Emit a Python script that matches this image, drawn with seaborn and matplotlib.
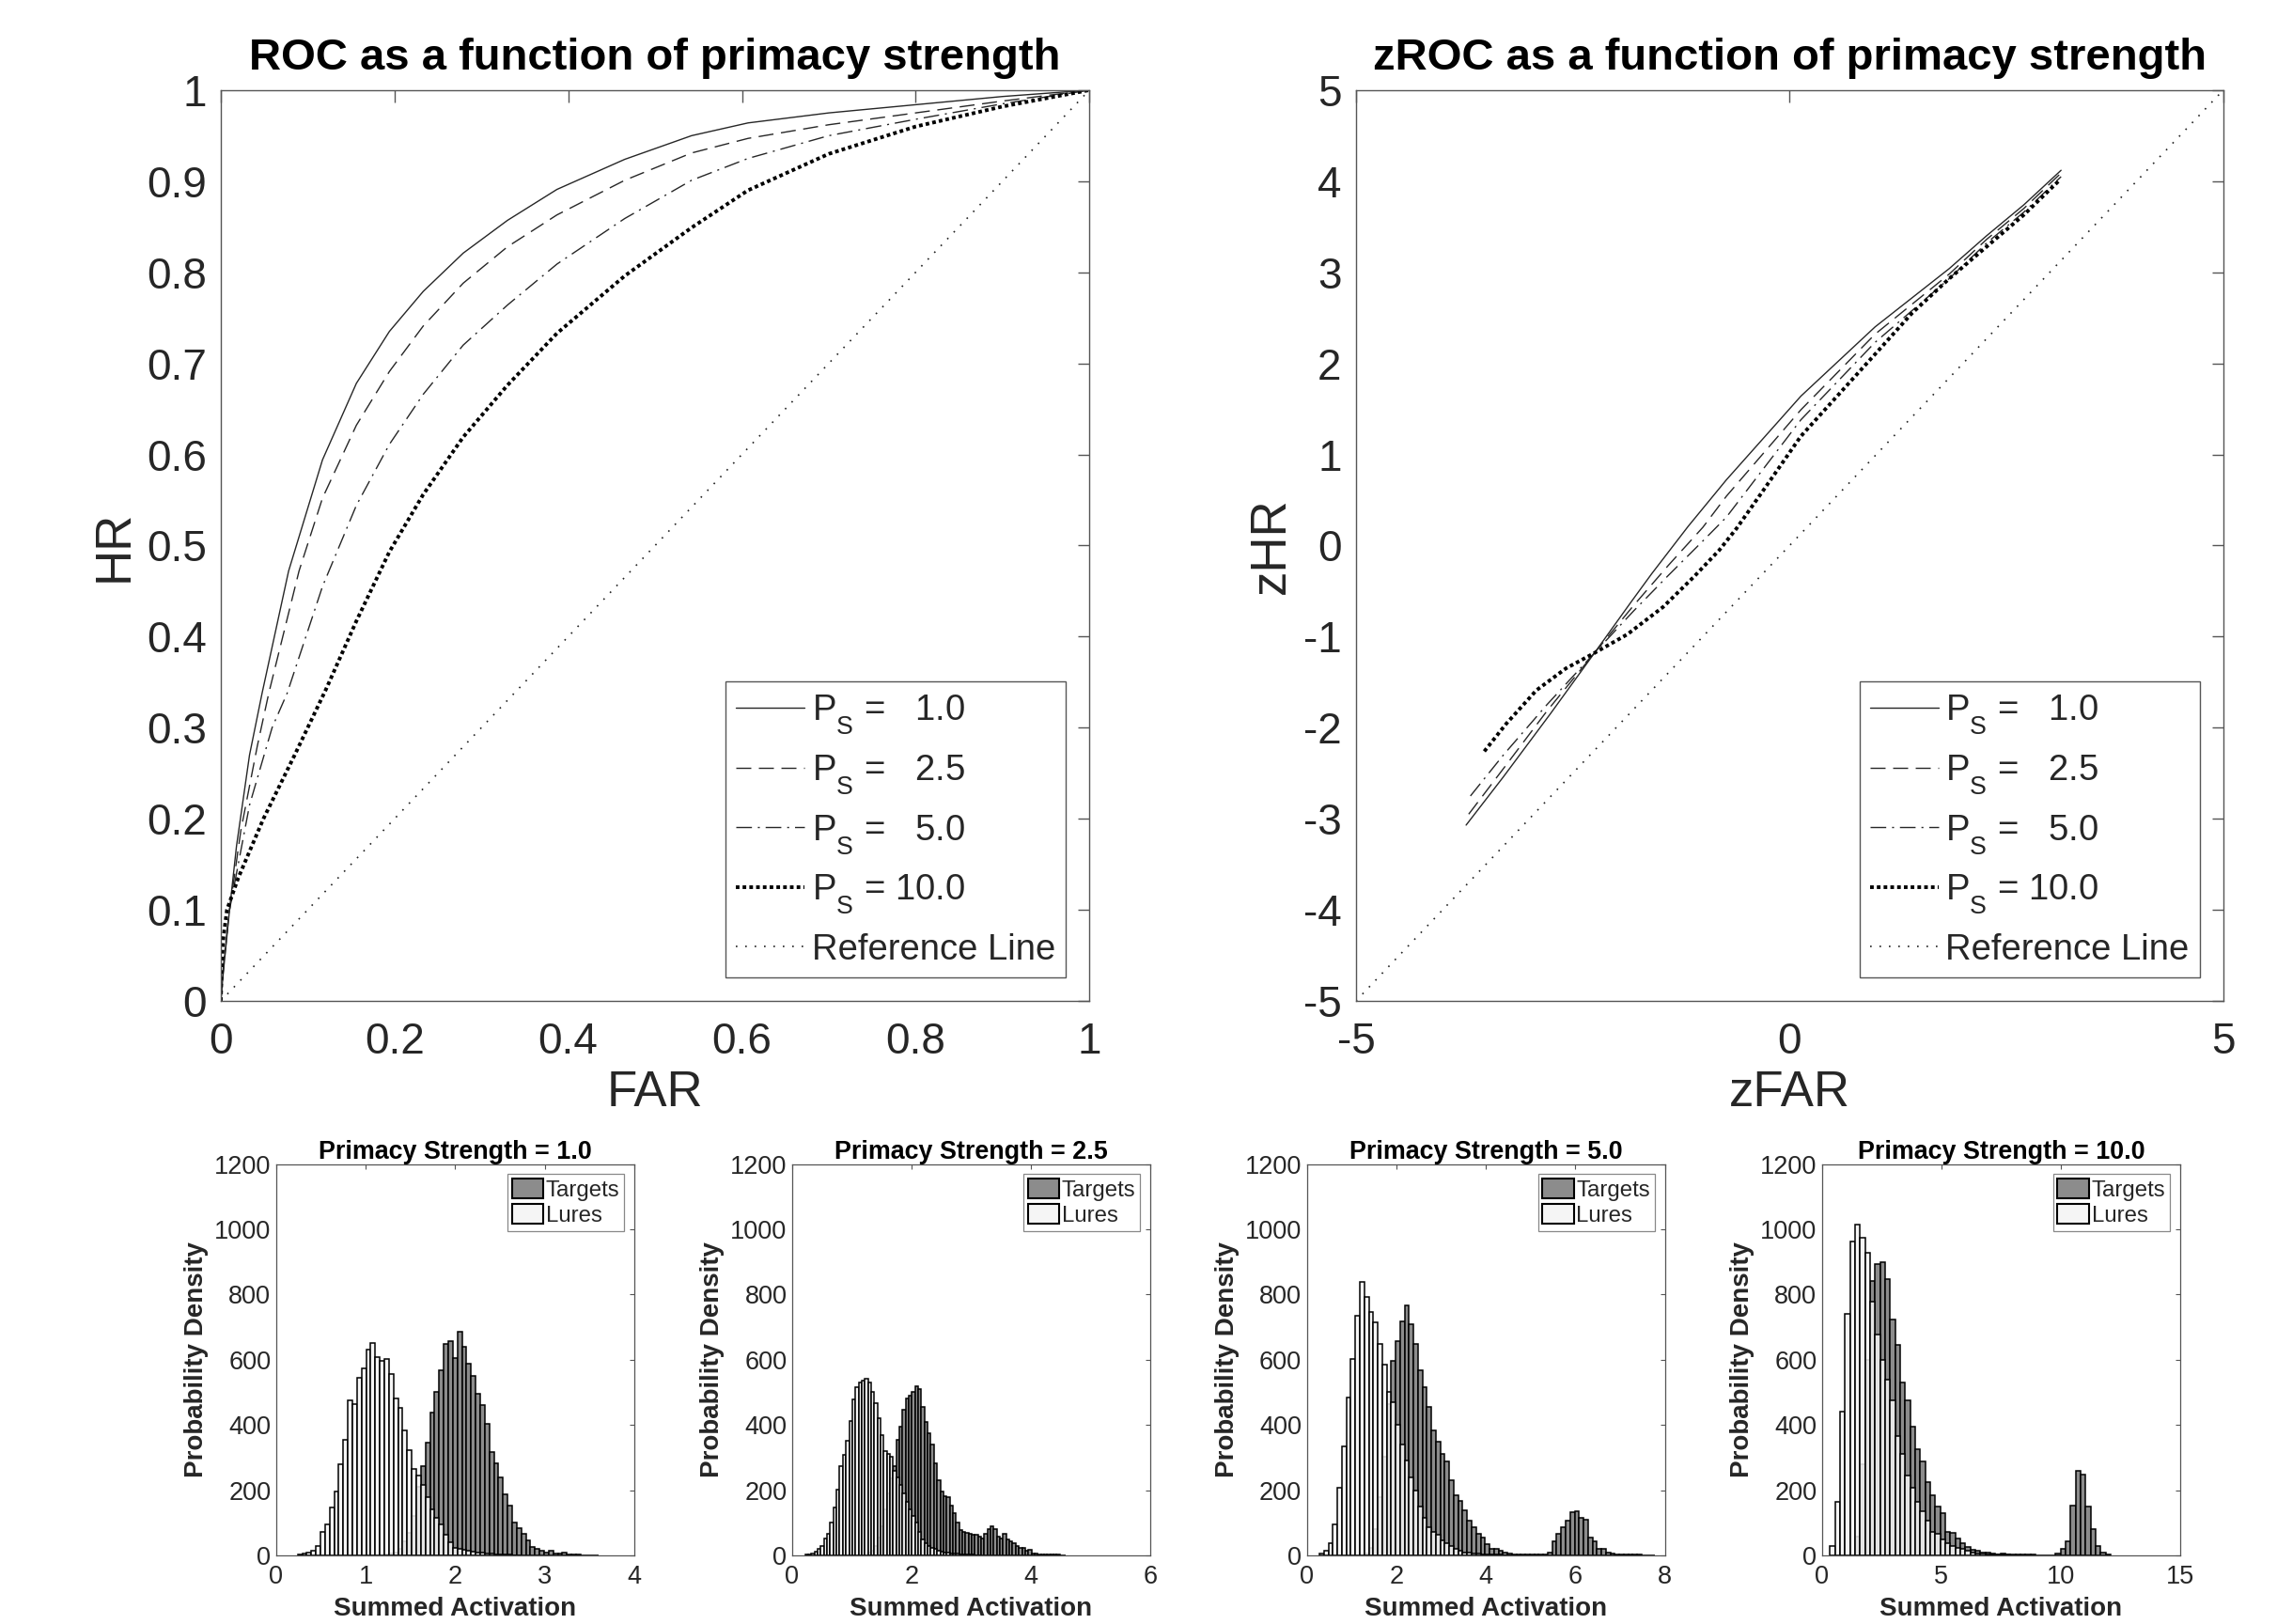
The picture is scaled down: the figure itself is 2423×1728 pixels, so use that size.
import numpy as np
import pandas as pd
import matplotlib
matplotlib.use("Agg")
import matplotlib.pyplot as plt
from matplotlib.patches import Patch
from matplotlib.ticker import FuncFormatter, MultipleLocator
import seaborn as sns

try:
    import matplotlib._mathtext as _mt
    _mt.FontConstantsBase.sub1 = 0.75
    _mt.FontConstantsBase.sub2 = 0.85
except Exception:
    pass

# ------------------------------------------------------------------ data
ps_values = ["1.0", "2.5", "5.0", "10.0"]

# ROC curves (FAR, HR)
roc_far_ps1 = [0, 0.001, 0.003, 0.01, 0.018, 0.033, 0.0475, 0.078, 0.117, 0.156, 0.194, 0.233, 0.279, 0.33,
               0.387, 0.465, 0.542, 0.607, 0.7, 0.8, 0.9, 1.0]
roc_hr_ps1 = [0, 0.012, 0.033, 0.10, 0.17, 0.27, 0.338, 0.472, 0.594, 0.678, 0.735, 0.779, 0.821, 0.857,
              0.891, 0.924, 0.950, 0.964, 0.975, 0.984, 0.993, 1.0]
roc_far_ps2 = [0, 0.001, 0.004, 0.009, 0.023, 0.042, 0.0552, 0.09, 0.117, 0.156, 0.194, 0.233, 0.279, 0.33,
               0.387, 0.465, 0.542, 0.607, 0.7, 0.8, 0.9, 1.0]
roc_hr_ps2 = [0, 0.015, 0.045, 0.093, 0.187, 0.28, 0.338, 0.472, 0.552, 0.632, 0.691, 0.741, 0.788, 0.828,
              0.863, 0.901, 0.931, 0.947, 0.962, 0.975, 0.988, 1.0]
roc_far_ps3 = [0, 0.001, 0.004, 0.01, 0.033, 0.059, 0.0764, 0.117, 0.156, 0.194, 0.233, 0.279, 0.33,
               0.387, 0.465, 0.542, 0.607, 0.7, 0.8, 0.9, 1.0]
roc_hr_ps3 = [0, 0.015, 0.05, 0.10, 0.215, 0.30, 0.338, 0.455, 0.544, 0.611, 0.666, 0.720, 0.764,
              0.809, 0.859, 0.901, 0.925, 0.950, 0.968, 0.985, 1.0]
roc_far_ps4 = [0, 0.001, 0.003, 0.007, 0.02, 0.049, 0.085, 0.121, 0.156, 0.194, 0.233, 0.279, 0.33,
               0.387, 0.465, 0.542, 0.607, 0.7, 0.8, 0.9, 1.0]
roc_hr_ps4 = [0, 0.04, 0.07, 0.10, 0.135, 0.20, 0.27, 0.342, 0.417, 0.493, 0.556, 0.619, 0.676,
              0.733, 0.796, 0.849, 0.89, 0.93, 0.96, 0.982, 1.0]

# zROC curves (zFAR, zHR)
zroc_x_ps1 = [-3.73, -3.30, -2.76, -2.25, -1.82, -1.59, -1.17, -0.73, 0.13, 0.985, 1.84, 2.27, 2.70, 3.13]
zroc_y_ps1 = [-3.07, -2.54, -1.85, -1.18, -0.61, -0.31, 0.21, 0.72, 1.64, 2.40, 3.04, 3.40, 3.74, 4.12]
zroc_x_ps2 = [-3.70, -3.3, -2.8, -2.25, -1.8, -1.4, -1.0, -0.73, 0.13, 0.985, 1.84, 2.27, 2.70, 3.13]
zroc_y_ps2 = [-2.95, -2.45, -1.82, -1.18, -0.66, -0.22, 0.20, 0.54, 1.49, 2.32, 2.98, 3.36, 3.70, 4.09]
zroc_x_ps3 = [-3.68, -3.3, -2.8, -2.25, -1.8, -1.4, -1.0, -0.73, 0.13, 0.985, 1.84, 2.27, 2.70, 3.13]
zroc_y_ps3 = [-2.75, -2.3, -1.75, -1.18, -0.72, -0.33, 0.05, 0.31, 1.38, 2.23, 2.93, 3.32, 3.66, 4.05]
zroc_x_ps4 = [-3.52, -3.27, -2.92, -2.58, -2.25, -1.87, -1.46, -1.10, -0.81, -0.61, -0.30, 0.13, 0.985,
              1.41, 1.84, 2.27, 2.70, 3.10]
zroc_y_ps4 = [-2.26, -1.96, -1.59, -1.35, -1.18, -0.975, -0.676, -0.34, -0.05, 0.19, 0.61, 1.20, 2.10,
              2.55, 2.93, 3.28, 3.63, 4.0]

ref_roc = [0.0, 1.0]
ref_zroc = [-5.0, 5.0]

# Histograms: bin start, bin width, lure counts, first target bin, target counts
hist_titles = ["Primacy Strength = 1.0", "Primacy Strength = 2.5",
               "Primacy Strength = 5.0", "Primacy Strength = 10.0"]
hist_xmax = [4, 6, 8, 15]
hist_xtick_step = [1, 2, 2, 5]

h1_start, h1_width = 0.24, 0.051
h1_lures = [3, 5, 8, 15, 30, 72, 96, 147, 197, 279, 355, 475, 463, 545, 573, 631, 650, 608, 596, 603,
            557, 480, 453, 384, 324, 264, 245, 215, 180, 140, 115, 96, 62, 40, 24, 20, 17, 15, 12, 10,
            8, 6, 5, 4, 3, 2, 2, 1, 1]
h1_target_first = 19
h1_targets = [2, 5, 10, 20, 43, 70, 120, 211, 274, 346, 437, 500, 567, 648, 656, 605, 685, 641, 589, 550,
              495, 461, 403, 317, 283, 240, 187, 154, 101, 84, 67, 46, 26, 19, 14, 10, 14, 5, 5, 8,
              3, 2, 2, 1, 1, 1, 1]

h2_start, h2_width = 0.216, 0.0527
h2_lures = [2, 3, 5, 12, 19, 29, 53, 67, 101, 147, 202, 274, 307, 351, 413, 477, 516, 531, 535, 541,
            531, 500, 468, 420, 370, 320, 310, 303, 260, 240, 215, 190, 165, 140, 120, 100, 72, 50, 36, 29,
            23, 19, 15, 12, 10, 8, 7, 6, 5, 4, 3, 3, 2, 2, 1, 1]
h2_target_first = 20
h2_targets = [8, 15, 30, 55, 90, 140, 190, 235, 274, 355, 394, 447, 480, 490, 500, 519, 509, 456, 408, 375,
              341, 283, 231, 197, 182, 178, 154, 130, 101, 77, 72, 70, 67, 62, 64, 58, 53, 67, 82, 89,
              82, 58, 53, 67, 48, 43, 38, 29, 24, 24, 14, 16, 7, 5, 4, 3, 3, 3, 2, 2, 2, 1, 1]

h3_start, h3_width = 0.28, 0.1
h3_lures = [5, 14, 38, 96, 207, 333, 485, 602, 735, 839, 791, 746, 714, 648, 586, 500, 470, 400, 340, 290,
            240, 200, 150, 115, 86, 72, 64, 45, 36, 29, 21, 15, 10, 8, 6, 5, 4, 3, 3, 2, 2, 1, 1]
h3_target_first = 10
h3_targets = [5, 24, 82, 180, 302, 465, 596, 658, 718, 766, 708, 647, 567, 516, 456, 384, 350, 310, 288, 231,
              183, 168, 139, 106, 86, 67, 55, 35, 21, 19, 14, 10, 5, 4, 3, 3, 2, 2, 2, 2,
              3, 10, 43, 67, 86, 106, 132, 135, 115, 110, 55, 43, 21, 19, 10, 5, 4, 3, 3, 2,
              2, 2, 1, 1, 1]

h4_start, h4_width = 0.33, 0.21
h4_lures = [29, 163, 442, 740, 963, 1013, 975, 929, 778, 677, 600, 538, 476, 365, 312, 245, 207, 163, 134, 106,
            72, 67, 48, 38, 29, 24, 19, 14, 10, 7, 5, 4, 3, 3, 2, 2, 1, 1, 1]
h4_target_first = 5
h4_targets = [58, 279, 600, 840, 893, 898, 848, 723, 644, 530, 475, 394, 327, 288, 226, 183, 149, 130, 72, 70,
              53, 36, 26, 16, 14, 10, 8, 5, 3, 7, 3, 2, 2, 2, 2, 2, 1, 1, 1, 1,
              5, 19, 43, 154, 259, 247, 149, 80, 29, 10, 3]

# ------------------------------------------------------------------ style
sns.set_style("white")
plt.rcParams["font.family"] = ["Liberation Sans", "DejaVu Sans"]
plt.rcParams["mathtext.fontset"] = "custom"
plt.rcParams["mathtext.rm"] = "Liberation Sans"
plt.rcParams["mathtext.it"] = "Liberation Sans:italic"
plt.rcParams["mathtext.bf"] = "Liberation Sans:bold"

TXT = "#262626"
SPINE = "#555555"

fig = plt.figure(figsize=(24.23, 17.28), dpi=100)
fig.patch.set_facecolor("white")

ax_roc = fig.add_axes([0.0970, 0.3837, 0.3814, 0.5608])
ax_z = fig.add_axes([0.5955, 0.3837, 0.3809, 0.5608])

curve_styles = [
    dict(color="#262626", linewidth=1.0, linestyle="-"),
    dict(color="#262626", linewidth=1.0, linestyle=(0, (11.5, 5.8))),
    dict(color="#262626", linewidth=1.0, linestyle=(0, (12, 4.5, 1.5, 4.5))),
    dict(color="black", linewidth=2.8, linestyle=(0, (1, 0.85))),
]
ref_style = dict(color="#222222", linewidth=1.2, linestyle=(0, (1, 5)))

labels = [r"P${}_\mathregular{S}$ = " + ("  " if len(v) < 4 else "") + v for v in ps_values]

roc_sets = [(roc_far_ps1, roc_hr_ps1), (roc_far_ps2, roc_hr_ps2),
            (roc_far_ps3, roc_hr_ps3), (roc_far_ps4, roc_hr_ps4)]
zroc_sets = [(zroc_x_ps1, zroc_y_ps1), (zroc_x_ps2, zroc_y_ps2),
             (zroc_x_ps3, zroc_y_ps3), (zroc_x_ps4, zroc_y_ps4)]


def gfmt(v, p):
    return f"{v:g}"


def style_big(ax, title, xlabel, ylabel):
    ax.set_title(title, fontsize=34, fontweight="bold", pad=16, color="black")
    ax.set_xlabel(xlabel, fontsize=38, color=TXT, labelpad=5)
    ax.set_ylabel(ylabel, fontsize=38, color=TXT, labelpad=6.5)
    ax.tick_params(direction="in", length=9, width=1.0, colors=SPINE, labelcolor=TXT,
                   labelsize=33, top=True, right=True)
    ax.tick_params(axis="x", pad=16)
    ax.tick_params(axis="y", pad=11)
    for s in ax.spines.values():
        s.set_color(SPINE)
        s.set_linewidth(1.0)
    ax.xaxis.set_major_formatter(FuncFormatter(gfmt))
    ax.yaxis.set_major_formatter(FuncFormatter(gfmt))


def big_legend(ax):
    h, l = ax.get_legend_handles_labels()
    leg = ax.legend(h, l, loc="lower right", fontsize=27.5, frameon=True, fancybox=False,
                    framealpha=1, edgecolor=SPINE, handlelength=1.9, handletextpad=0.2,
                    labelspacing=0.45, borderpad=0.3, borderaxespad=0.65)
    leg.get_frame().set_linewidth(1.0)


def curve_frame(xs, ys):
    return pd.DataFrame({"x": np.asarray(xs, dtype=float), "y": np.asarray(ys, dtype=float)})


# ROC
for (fx, hy), st, lab in zip(roc_sets, curve_styles, labels):
    sns.lineplot(data=curve_frame(fx, hy), x="x", y="y", ax=ax_roc, sort=False,
                 estimator=None, label=lab, **st)
sns.lineplot(data=curve_frame(ref_roc, ref_roc), x="x", y="y", ax=ax_roc, sort=False,
             estimator=None, label="Reference Line", **ref_style)
ax_roc.set_xlim(0, 1)
ax_roc.set_ylim(0, 1)
ax_roc.xaxis.set_major_locator(MultipleLocator(0.2))
ax_roc.yaxis.set_major_locator(MultipleLocator(0.1))
style_big(ax_roc, "ROC as a function of primacy strength", "FAR", "HR")
big_legend(ax_roc)

# zROC
for (zx, zy), st, lab in zip(zroc_sets, curve_styles, labels):
    sns.lineplot(data=curve_frame(zx, zy), x="x", y="y", ax=ax_z, sort=False,
                 estimator=None, label=lab, **st)
sns.lineplot(data=curve_frame(ref_zroc, ref_zroc), x="x", y="y", ax=ax_z, sort=False,
             estimator=None, label="Reference Line", **ref_style)
ax_z.set_xlim(-5, 5)
ax_z.set_ylim(-5, 5)
ax_z.xaxis.set_major_locator(MultipleLocator(5))
ax_z.yaxis.set_major_locator(MultipleLocator(1))
style_big(ax_z, "zROC as a function of primacy strength", "zFAR", "zHR")
big_legend(ax_z)

# Histograms
hist_sets = [
    (h1_start, h1_width, h1_lures, h1_target_first, h1_targets),
    (h2_start, h2_width, h2_lures, h2_target_first, h2_targets),
    (h3_start, h3_width, h3_lures, h3_target_first, h3_targets),
    (h4_start, h4_width, h4_lures, h4_target_first, h4_targets),
]
hist_lefts = [0.1213, 0.3479, 0.5740, 0.8002]
TARGET_C = "#8c8c8c"
LURE_C = "#f5f5f5"

for left, (start, width, lures, tfirst, targets), title, xmax, step in zip(
        hist_lefts, hist_sets, hist_titles, hist_xmax, hist_xtick_step):
    ax = fig.add_axes([left, 0.04225, 0.1572, 0.2410])
    n = max(len(lures), tfirst + len(targets))
    edges = start + width * np.arange(n + 1)
    centers = edges[:-1] + width / 2
    t_edges = [float(e) for e in edges[tfirst:tfirst + len(targets) + 1]]
    t_df = pd.DataFrame({"x": centers[tfirst:tfirst + len(targets)],
                         "w": np.asarray(targets, dtype=float)})
    l_edges = [float(e) for e in edges[:len(lures) + 1]]
    l_df = pd.DataFrame({"x": centers[:len(lures)], "w": np.asarray(lures, dtype=float)})
    sns.histplot(data=t_df, x="x", weights="w", bins=t_edges, ax=ax, stat="count",
                 element="bars", fill=True, color=TARGET_C, alpha=1.0,
                 edgecolor="black", linewidth=1.1)
    sns.histplot(data=l_df, x="x", weights="w", bins=l_edges, ax=ax, stat="count",
                 element="bars", fill=True, color=LURE_C, alpha=0.85,
                 edgecolor="black", linewidth=1.1)
    ax.set_xlim(0, xmax)
    ax.set_ylim(0, 1200)
    ax.xaxis.set_major_locator(MultipleLocator(step))
    ax.yaxis.set_major_locator(MultipleLocator(200))
    ax.xaxis.set_major_formatter(FuncFormatter(gfmt))
    ax.yaxis.set_major_formatter(FuncFormatter(gfmt))
    ax.set_title(title, fontsize=19.4, fontweight="bold", pad=4, color="black")
    ax.set_xlabel("Summed Activation", fontsize=20, fontweight="bold", color=TXT, labelpad=6)
    ax.set_ylabel("Probability Density", fontsize=20, fontweight="bold", color=TXT, labelpad=4)
    ax.tick_params(direction="in", length=3.5, width=0.8, colors=SPINE, labelcolor=TXT,
                   labelsize=19.5, top=True, right=True)
    ax.tick_params(axis="x", pad=7)
    ax.tick_params(axis="y", pad=4)
    for s in ax.spines.values():
        s.set_color(SPINE)
        s.set_linewidth(0.9)
    handles = [Patch(facecolor=TARGET_C, edgecolor="black", linewidth=1.5, label="Targets"),
               Patch(facecolor=LURE_C, edgecolor="black", linewidth=1.5, label="Lures")]
    leg = ax.legend(handles=handles, loc="upper right", fontsize=17.3, frameon=True, fancybox=False,
                    framealpha=1, edgecolor="#888888", handlelength=1.4, handleheight=0.95,
                    handletextpad=0.1, labelspacing=0.15, borderpad=0.2, borderaxespad=0.45)
    leg.get_frame().set_linewidth(0.9)

fig.savefig("out.png", dpi=100, facecolor="white")
